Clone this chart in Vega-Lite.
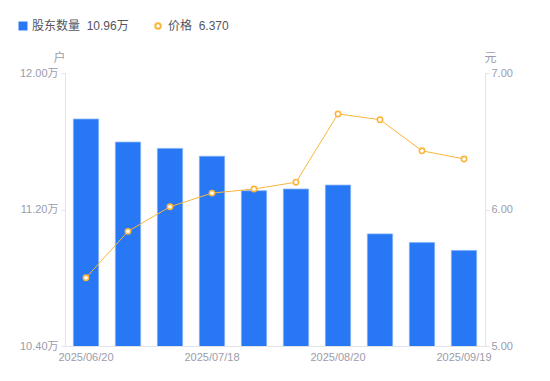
{
  "$schema": "https://vega.github.io/schema/vega-lite/v6.json",
  "width": 420,
  "height": 273,
  "autosize": "none",
  "padding": {"left": 65, "top": 73, "right": 65, "bottom": 35},
  "background": "white",
  "config": {
    "font": "Liberation Sans, Noto Sans CJK SC",
    "view": {"stroke": null},
    "axis": {
      "labelColor": "#9B9CAB",
      "labelFontSize": 11,
      "titleColor": "#9B9CAB",
      "titleFontSize": 12,
      "titleFontWeight": "normal",
      "domainColor": "#E2E3E8",
      "tickColor": "#E2E3E8",
      "tickSize": 4,
      "grid": false
    },
    "legend": {
      "labelFontSize": 12,
      "labelColor": "#555560",
      "padding": 0,
      "titlePadding": 0
    }
  },
  "data": {
    "values": [
      {"date": "2025/06/20", "holders": 11.73, "price": 5.50},
      {"date": "2025/06/30", "holders": 11.595, "price": 5.84},
      {"date": "2025/07/10", "holders": 11.558, "price": 6.02},
      {"date": "2025/07/18", "holders": 11.512, "price": 6.12},
      {"date": "2025/07/31", "holders": 11.31, "price": 6.15},
      {"date": "2025/08/08", "holders": 11.32, "price": 6.20},
      {"date": "2025/08/20", "holders": 11.343, "price": 6.70},
      {"date": "2025/08/29", "holders": 11.057, "price": 6.658},
      {"date": "2025/09/10", "holders": 11.006, "price": 6.43},
      {"date": "2025/09/19", "holders": 10.96, "price": 6.37}
    ]
  },
  "encoding": {
    "x": {
      "field": "date",
      "type": "ordinal",
      "sort": null,
      "scale": {"paddingInner": 0.4, "paddingOuter": 0.2},
      "axis": {
        "title": null,
        "values": ["2025/06/20", "2025/07/18", "2025/08/20", "2025/09/19"],
        "labelAngle": 0,
        "ticks": false,
        "labelPadding": 5
      }
    }
  },
  "layer": [
    {
      "mark": {"type": "bar", "stroke": "#7FAEF8", "strokeWidth": 0.8, "clip": true},
      "encoding": {
        "y": {
          "field": "holders",
          "type": "quantitative",
          "scale": {"domain": [10.4, 12], "zero": false, "nice": false},
          "axis": {
            "values": [10.4, 11.2, 12.0],
            "labelExpr": "format(datum.value, '.2f') + '万'",
            "title": "户",
            "titleAngle": 0,
            "titleX": -6,
            "titleY": -16,
            "titleAlign": "center",
            "titleBaseline": "middle",
            "labelPadding": 3
          }
        },
        "fill": {
          "datum": "股东数量",
          "type": "nominal",
          "scale": {"range": ["#2878F5"]},
          "legend": {
            "title": null,
            "orient": "none",
            "legendX": -48,
            "legendY": -53,
            "symbolType": "square",
            "symbolSize": 80,
            "symbolStrokeWidth": 0,
            "labelOffset": 3,
            "labelExpr": "'股东数量\u00a0\u00a010.96万'"
          }
        }
      }
    },
    {
      "encoding": {
        "y": {
          "field": "price",
          "type": "quantitative",
          "scale": {"domain": [5, 7], "zero": false, "nice": false},
          "axis": {
            "orient": "right",
            "values": [5, 6, 7],
            "format": ".2f",
            "title": "元",
            "titleAngle": 0,
            "titleX": 5,
            "titleY": -16,
            "titleAlign": "center",
            "titleBaseline": "middle",
            "labelPadding": 2
          }
        },
        "stroke": {
          "datum": "价格",
          "type": "nominal",
          "scale": {"range": ["#FBB53B"]},
          "legend": {
            "title": null,
            "orient": "none",
            "legendX": 87,
            "legendY": -53,
            "symbolType": "circle",
            "symbolSize": 30,
            "symbolFillColor": "white",
            "symbolStrokeWidth": 2,
            "labelOffset": 4,
            "labelExpr": "'价格\u00a0\u00a06.370'"
          }
        }
      },
      "layer": [
        {"mark": {"type": "line", "strokeWidth": 1}},
        {"mark": {"type": "point", "filled": true, "fill": "white", "size": 28, "strokeWidth": 1.6, "opacity": 1}}
      ]
    }
  ],
  "resolve": {"scale": {"y": "independent"}}
}
